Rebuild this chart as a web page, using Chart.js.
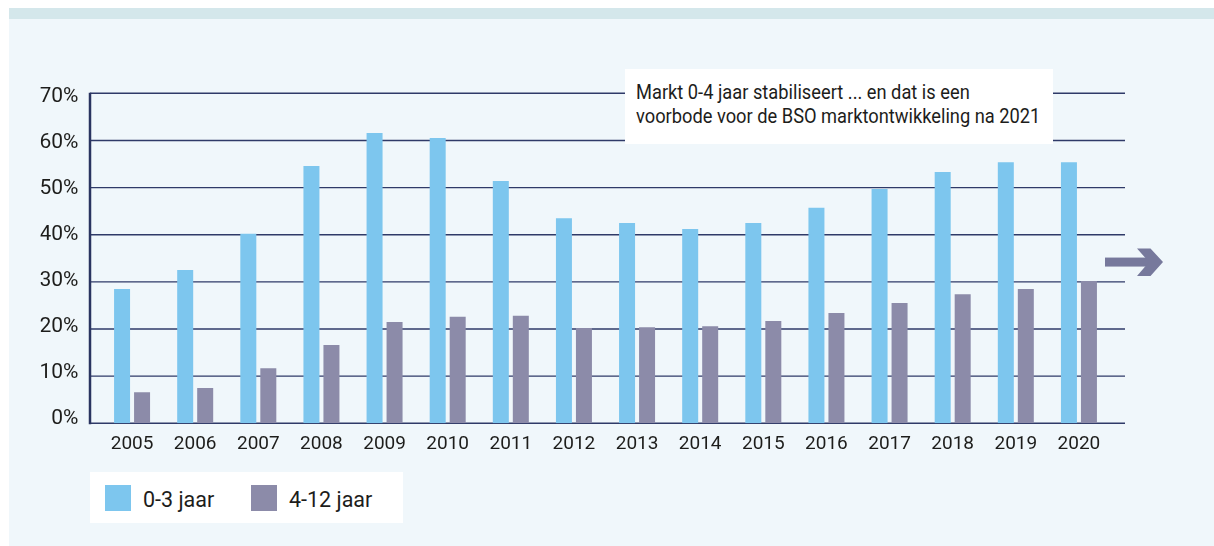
<!DOCTYPE html>
<html><head><meta charset="utf-8">
<script src="https://cdn.jsdelivr.net/npm/chart.js@4.4.1/dist/chart.umd.min.js"></script>
<style>
html,body{margin:0;padding:0;background:#fff;width:1214px;height:546px;overflow:hidden;font-family:Roboto,'Liberation Sans',sans-serif;}
#band{position:absolute;left:9px;top:8px;width:1205px;height:11px;background:#D4E7EB;}
#panel{position:absolute;left:9px;top:19px;width:1205px;height:527px;background:#F0F7FB;}
#wrap{position:absolute;left:0;top:0;width:1214px;height:546px;}
#note{position:absolute;left:625px;top:69px;width:428px;height:75px;background:#fff;box-sizing:border-box;padding:11px 0 0 11px;font-size:21px;line-height:24px;color:#1d1d1b;white-space:nowrap;}
#note div{transform:scaleX(0.87);transform-origin:0 0;}
#legend{position:absolute;left:90px;top:472px;width:313px;height:51px;background:#fff;}
.sw{position:absolute;top:13px;width:26px;height:26px;}
.lt{position:absolute;top:14.5px;height:26px;font-size:21.5px;line-height:26px;color:#1d1d1b;white-space:nowrap;}
</style></head>
<body>
<div id="band"></div>
<div id="panel"></div>
<div id="wrap"><canvas id="c" width="1214" height="546"></canvas></div>
<div id="note"></div>
<div id="legend"></div>
<script>
const categories = ['2005','2006','2007','2008','2009','2010','2011','2012','2013','2014','2015','2016','2017','2018','2019','2020'];
const series03 = [28.5, 32.5, 40.2, 54.6, 61.6, 60.5, 51.4, 43.5, 42.5, 41.2, 42.5, 45.7, 49.7, 53.3, 55.4, 55.4];
const series412 = [6.6, 7.5, 11.7, 16.6, 21.5, 22.6, 22.8, 20.2, 20.4, 20.6, 21.7, 23.4, 25.5, 27.4, 28.5, 30.2];
const seriesLabels = ['0-3 jaar', '4-12 jaar'];
const seriesColors = ['#7DC6EE', '#8C8BA9'];
const yTickValues = [0, 10, 20, 30, 40, 50, 60, 70];
const noteLines = ['Markt 0-4 jaar stabiliseert ... en dat is een', 'voorbode voor de BSO marktontwikkeling na 2021'];

const FONT = 'Roboto';
const gridColor = '#2F3A68';

const gridPlugin = {
  id: 'extGrid',
  beforeDatasetsDraw(chart) {
    const ctx = chart.ctx, a = chart.chartArea, y = chart.scales.y;
    const x0 = a.left - 10.5, x1 = a.right + 14.5;
    ctx.save();
    ctx.strokeStyle = gridColor;
    ctx.lineWidth = 1.4;
    yTickValues.forEach(v => {
      const py = y.getPixelForValue(v);
      ctx.beginPath(); ctx.moveTo(x0, py); ctx.lineTo(x1, py); ctx.stroke();
    });
    ctx.lineWidth = 2.5;
    ctx.strokeStyle = '#2A3460';
    ctx.beginPath();
    ctx.moveTo(x0, y.getPixelForValue(70) - 0.5);
    ctx.lineTo(x0, y.getPixelForValue(0) + 1);
    ctx.stroke();
    ctx.restore();
  },
  afterDraw(chart) {
    const ctx = chart.ctx, a = chart.chartArea, y = chart.scales.y;
    const xs = a.right - 5.5;
    const cy = y.getPixelForValue(34.2);
    ctx.save();
    ctx.fillStyle = '#77799C';
    ctx.fillRect(xs, cy - 4.5, 44, 9);
    ctx.beginPath();
    ctx.moveTo(xs + 32, cy - 13.5);
    ctx.lineTo(xs + 45.5, cy - 13.5);
    ctx.lineTo(xs + 58, cy);
    ctx.lineTo(xs + 45.5, cy + 14);
    ctx.lineTo(xs + 32, cy + 14);
    ctx.lineTo(xs + 44, cy);
    ctx.closePath();
    ctx.fill();
    ctx.restore();
  }
};

const chart = new Chart(document.getElementById('c'), {
  type: 'bar',
  data: {
    labels: categories,
    datasets: [
      { label: seriesLabels[0], data: series03, backgroundColor: seriesColors[0], borderWidth: 0 },
      { label: seriesLabels[1], data: series412, backgroundColor: seriesColors[1], borderWidth: 0 }
    ]
  },
  options: {
    responsive: false,
    animation: false,
    datasets: { bar: { categoryPercentage: 40 / 63.125, barPercentage: 0.8 } },
    layout: { padding: { left: 40.5, right: 103.5, top: 93.3, bottom: 72.7 } },
    plugins: { legend: { display: false }, tooltip: { enabled: false } },
    scales: {
      x: {
        grid: { display: false, drawTicks: false },
        border: { display: false },
        ticks: { font: { family: FONT, size: 19 }, color: '#1d1d1b', padding: 10, maxRotation: 0, autoSkip: false },
        afterFit(s) { s.height = 50; }
      },
      y: {
        display: false,
        min: 0, max: 70,
        grid: { display: false, drawTicks: false },
        border: { display: false },
        ticks: { stepSize: 10 }
      },
      yl: {
        position: 'left',
        min: -0.935, max: 70.8,
        grid: { display: false, drawTicks: false },
        border: { display: false },
        afterBuildTicks(s) { s.ticks = yTickValues.map(v => ({ value: v })); },
        ticks: { callback: v => v + '%', padding: 22, font: { family: FONT, size: 21 }, color: '#1d1d1b' },
        afterFit(s) { s.width = 60; }
      }
    }
  },
  plugins: [gridPlugin]
});

document.getElementById('note').innerHTML = noteLines.map(t => '<div>' + t + '</div>').join('');
const lg = document.getElementById('legend');
const swX = [15, 161], txX = [53, 199];
chart.data.datasets.forEach((ds, i) => {
  const sw = document.createElement('div');
  sw.className = 'sw'; sw.style.left = swX[i] + 'px'; sw.style.background = ds.backgroundColor;
  const tx = document.createElement('div');
  tx.className = 'lt'; tx.style.left = txX[i] + 'px'; tx.textContent = ds.label;
  lg.appendChild(sw); lg.appendChild(tx);
});
</script>
</body></html>
